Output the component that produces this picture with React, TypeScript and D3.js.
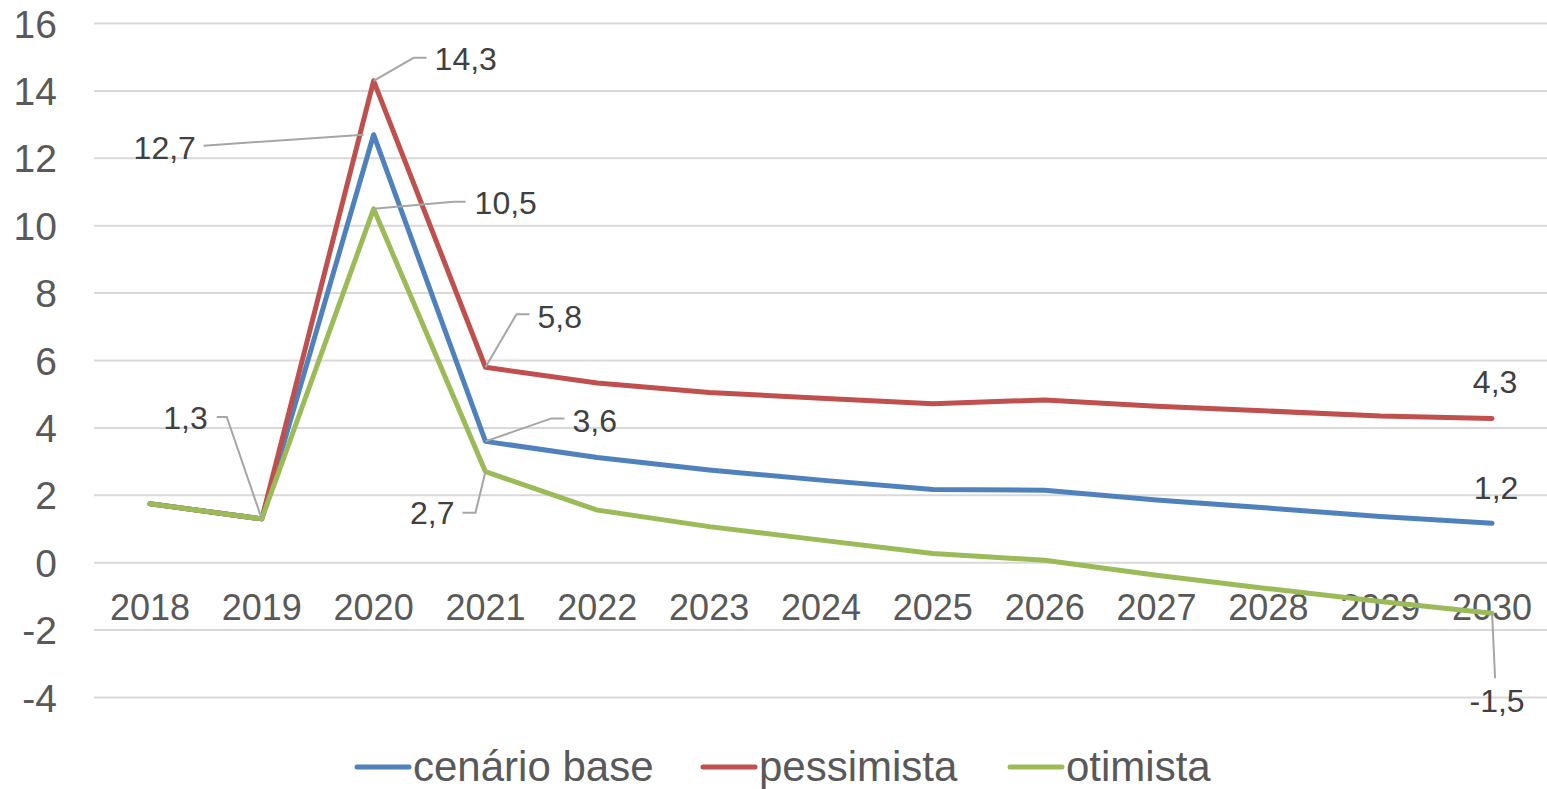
import * as React from 'react';
import * as d3 from 'd3';

const years: string[] = ['2018', '2019', '2020', '2021', '2022', '2023', '2024', '2025', '2026', '2027', '2028', '2029', '2030'];

const base: number[] = [1.75, 1.3, 12.7, 3.6, 3.12, 2.75, 2.45, 2.17, 2.15, 1.86, 1.62, 1.37, 1.17];
const pessimista: number[] = [1.75, 1.3, 14.3, 5.8, 5.33, 5.05, 4.88, 4.72, 4.83, 4.64, 4.5, 4.35, 4.28];
const otimista: number[] = [1.75, 1.3, 10.5, 2.7, 1.56, 1.07, 0.67, 0.27, 0.07, -0.37, -0.77, -1.15, -1.5];

const yTicks: number[] = [-4, -2, 0, 2, 4, 6, 8, 10, 12, 14, 16];

const seriesNames: string[] = ['cenário base', 'pessimista', 'otimista'];
const seriesColors: string[] = ['#4F81BD', '#C0504D', '#9BBB59'];

// labelled points: series index, year index, label offset (dx, dy to text anchor), leader polyline offsets
const labels: any[] = [
	{ s: 0, i: 2, dx: -240, dy: 24, anchor: 'start', leader: [[-170, 11], [-10, 0]] },
	{ s: 1, i: 2, dx: 61, dy: -11, anchor: 'start', leader: [[53, -23], [40, -23], [0, 0]] },
	{ s: 2, i: 2, dx: 101, dy: 5, anchor: 'start', leader: [[92, -7], [80, -7], [0, 0]] },
	{ s: 1, i: 3, dx: 52, dy: -39, anchor: 'start', leader: [[44, -53], [31, -53], [0, 0]] },
	{ s: 0, i: 3, dx: 87, dy: -9, anchor: 'start', leader: [[79, -23], [66, -23], [0, 0]] },
	{ s: 2, i: 3, dx: -31, dy: 52, anchor: 'end', leader: [[-23, 41], [-10, 41], [0, 0]] },
	{ s: 0, i: 1, dx: -54, dy: -90, anchor: 'end', leader: [[-45, -102], [-35, -102], [0, 0]] },
	{ s: 1, i: 12, dx: 3, dy: -25, anchor: 'middle', leader: [] },
	{ s: 0, i: 12, dx: 4, dy: -24, anchor: 'middle', leader: [] },
	{ s: 2, i: 12, dx: 5, dy: 99, anchor: 'middle', leader: [[3, 65], [0, 0]] }
];

const W = 1547;
const H = 789;

const App = () => {
	const allSeries = [base, pessimista, otimista];

	const x = d3.scalePoint().domain(years).range([94, 1548]).padding(0.5);
	const y = d3.scaleLinear().domain([-4, 16]).range([697.5, 23.5]);

	const line = d3
		.line<number>()
		.x((d: number, i: number) => x(years[i]) as number)
		.y((d: number) => y(d));

	const fmt = (v: number) => v.toFixed(1).replace('.', ',');
	const font = "'Liberation Sans', Arial, sans-serif";

	const legendX = [357, 703, 1010];

	return (
		<svg width={W} height={H} viewBox={`0 0 ${W} ${H}`} style={{ position: 'absolute', left: 0, top: 0, background: '#fff' }}>
			<g>
				{yTicks.map((t) => (
					<line key={'g' + t} x1={94} x2={1548} y1={y(t)} y2={y(t)} stroke="#D9D9D9" strokeWidth={2} />
				))}
			</g>
			<g fontFamily={font} fill="#595959">
				{yTicks.map((t) => (
					<text key={'y' + t} x={57} y={y(t) + 14} fontSize={39} textAnchor="end">
						{t}
					</text>
				))}
				{years.map((yr) => (
					<text key={'x' + yr} x={x(yr)} y={620} fontSize={36} textAnchor="middle">
						{yr}
					</text>
				))}
			</g>
			<g fill="none" strokeWidth={5} strokeLinejoin="round" strokeLinecap="round">
				{allSeries.map((s, k) => (
					<path key={'s' + k} d={line(s) as string} stroke={seriesColors[k]} />
				))}
			</g>
			<g fontFamily={font} fontSize={32} fill="#404040">
				{labels.map((l, k) => {
					const v = allSeries[l.s][l.i];
					const px = x(years[l.i]) as number;
					const py = y(v);
					const pts = l.leader.map((p: number[]) => [px + p[0], py + p[1]].join(',')).join(' ');
					return (
						<g key={'l' + k}>
							{l.leader.length > 0 && <polyline points={pts} fill="none" stroke="#A6A6A6" strokeWidth={2} />}
							<text x={px + l.dx} y={py + l.dy} textAnchor={l.anchor}>
								{fmt(v)}
							</text>
						</g>
					);
				})}
			</g>
			<g fontFamily={font} fontSize={42} fill="#595959">
				{seriesNames.map((n, k) => (
					<g key={'lg' + k}>
						<line x1={legendX[k]} x2={legendX[k] + 52} y1={767} y2={767} stroke={seriesColors[k]} strokeWidth={5} strokeLinecap="round" />
						<text x={legendX[k] + 56} y={781}>
							{n}
						</text>
					</g>
				))}
			</g>
		</svg>
	);
};

export default App;
